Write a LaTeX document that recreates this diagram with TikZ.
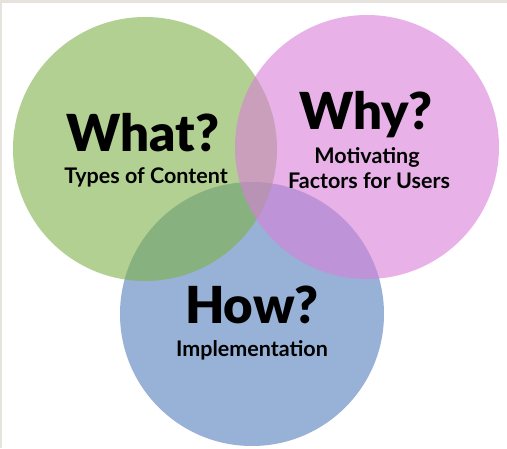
\documentclass[tikz,border=0pt]{standalone}
\usepackage{fontspec}
\setmainfont{Lato}
\newfontfamily\heavyfont{Lato Black}
\definecolor{vgreen}{RGB}{127,177,72}
\definecolor{vpink}{RGB}{217,127,217}
\definecolor{vblue}{RGB}{83,127,187}
\definecolor{framegrey}{RGB}{230,227,222}

\begin{document}
\begin{tikzpicture}[x=1pt, y=-1pt, line join=round, line cap=round]
    \tikzset{
        disc/.style={fill opacity=0.6},
        bigword/.style={anchor=base, font=\heavyfont\fontsize{51}{51}\selectfont},
        subword/.style={anchor=base, font=\bfseries\fontsize{21.5}{21.5}\selectfont},
    }
    % thin grey frame on the top and left edges
    \fill[framegrey] (0,0) rectangle (507,448);
    \fill[white] (2,3) rectangle (507,448);
    \useasboundingbox (0,0) rectangle (507,448);

    % centres of the three circles
    \coordinate (G) at (145,149);
    \coordinate (P) at (367,147);
    \coordinate (B) at (252,314);

    % circles: blue at the back, pink on top
    \fill[vblue, disc] (B) circle (132pt);
    \fill[vgreen, disc] (G) circle (132pt);
    \fill[vpink, disc] (P) circle (132pt);

    % labels
    \node[bigword] (what) at (143,151) {What?};
    \node[subword] (whatsub) at (146,183) {Types of Content};

    \node[bigword] (why) at (366,129) {Why?};
    \node[subword] (whysubA) at (367,163) {Motivating};
    \node[subword] (whysubB) at (369,188) {Factors for Users};

    \node[bigword] (how) at (252,323) {How?};
    \node[subword] (howsub) at (252,356) {Implementation};
\end{tikzpicture}
\end{document}
